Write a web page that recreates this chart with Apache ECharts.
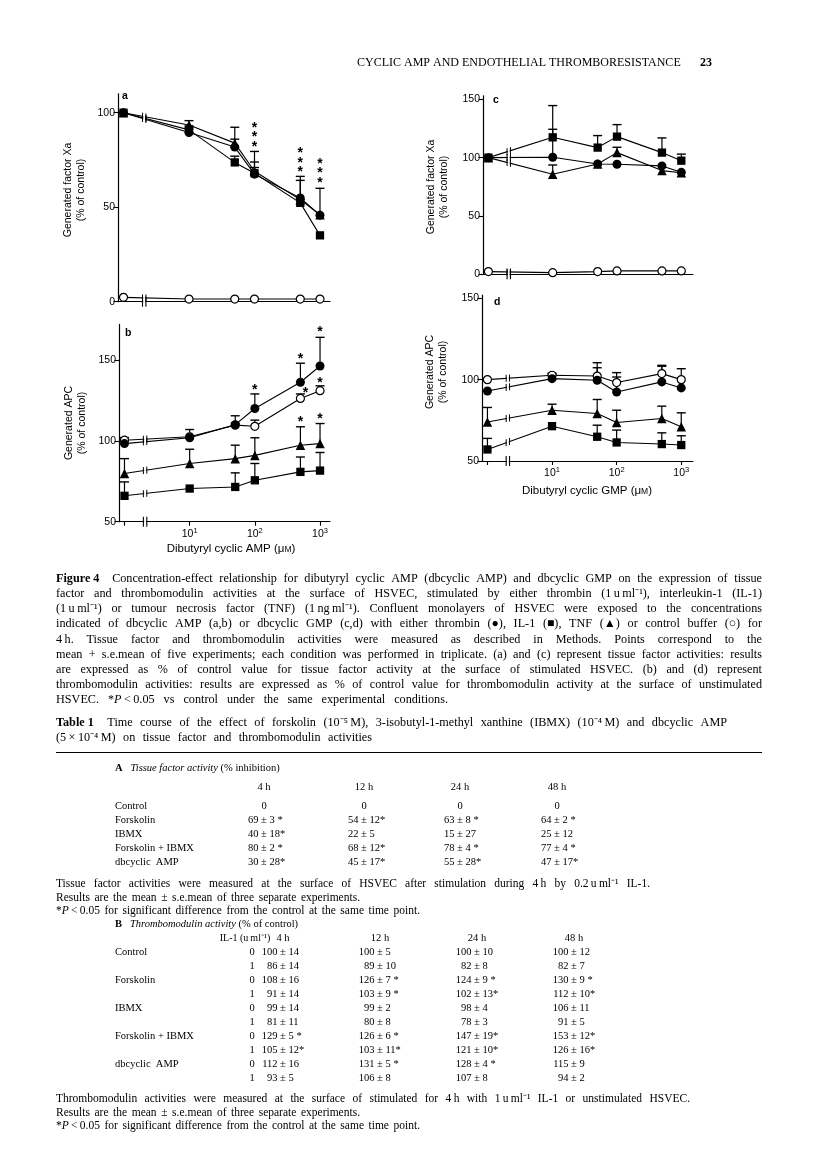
<!DOCTYPE html>
<html>
<head>
<meta charset="utf-8">
<title>Figure 4 / Table 1</title>
<script src="https://cdn.jsdelivr.net/npm/echarts@6.0.0/dist/echarts.min.js"></script>
<style>
  html, body { margin: 0; padding: 0; background: #fff; }
  #page { width: 816px; height: 1174px; }
</style>
</head>
<body>
<div id="page"></div>
<script>
var SANS = 'Liberation Sans';
var SERIF = 'Liberation Serif';

// concentration of dbcyclic AMP / GMP (uM); first entry is the no-drug point, left of the axis break
var conc = [1, 10, 50, 100, 500, 1000];
var axisBreak = [1.95, 2.2];

// a: generated factor Xa (% of control), dbcyclic AMP
var aThrombin = [100, 89.5, 81.8, 67.5, 54.9, 45.8];
var aThrombinTop = [100, 93, 92.3, 79.5, 66.3, 60];
var aIL1 = [100, 90.9, 73.7, 68, 52.3, 35.1];
var aIL1Top = [100, 92, 77, 71, 54, 35.1];
var aTNF = [100, 93.5, 83.9, 69, 54, 46];
var aTNFTop = [100, 95.8, 86, 73.9, 64.2, 46];
var aControl = [2.3, 1.4, 1.4, 1.4, 1.4, 1.4];
var aControlTop = [2.3, 1.4, 1.4, 1.4, 1.4, 1.4];
var aStarX = [100, 500, 1000];
var aStarY = [88.6, 75, 69.5];

// b: generated APC (% of control), dbcyclic AMP
var bThrombin = [98.3, 101.9, 110, 120, 136.2, 146.3];
var bThrombinTop = [101, 107, 115.5, 129, 148, 164];
var bIL1 = [66, 70.5, 71.5, 75.6, 80.8, 81.6];
var bIL1Top = [74.6, 70.5, 80.2, 86, 90, 92.8];
var bTNF = [79.8, 86, 89, 91, 97.3, 98.3];
var bTNFTop = [89, 94.8, 97.3, 101.9, 108.7, 110.7];
var bControl = [100.4, 102.5, 109.7, 109, 126.2, 131];
var bControlTop = [102, 103, 111, 112.8, 129, 134];
var bStarX = [100, 500, 1000, 600, 1000, 500, 1000];
var bStarY = [133, 152.5, 169, 131.5, 137.6, 113.4, 115];

// c: generated factor Xa (% of control), dbcyclic GMP
var cThrombin = [100, 100.3, 94.6, 94.3, 92.9, 87.4];
var cThrombinTop = [100, 124.3, 94.6, 94.3, 92.9, 87.4];
var cIL1 = [100, 117.4, 108.6, 118, 104.3, 97.4];
var cIL1Top = [100, 144.6, 118.9, 128.3, 116.9, 103];
var cTNF = [100, 85.7, 94.6, 104.3, 88.9, 87.1];
var cTNFTop = [100, 93.7, 94.6, 108.9, 88.9, 87.1];
var cControl = [2.3, 1.4, 2.3, 2.9, 2.9, 2.9];
var cControlTop = [2.3, 1.4, 2.3, 2.9, 2.9, 2.9];

// d: generated APC (% of control), dbcyclic GMP
var dThrombin = [93, 100.6, 99.6, 92.4, 98.6, 94.9];
var dThrombinTop = [93, 104, 107.3, 101.6, 108.8, 94.9];
var dIL1 = [57.1, 71.4, 64.9, 61.4, 60.4, 59.8];
var dIL1Top = [63.9, 71.4, 72, 69, 67.3, 65.5];
var dTNF = [74, 81.2, 79.2, 73.7, 76.1, 71];
var dTNFTop = [82.9, 84.9, 87.8, 81.2, 83.7, 79.6];
var dControl = [100, 102.7, 102.2, 98.2, 103.7, 100];
var dControlTop = [100, 103.5, 110.4, 104.3, 108.2, 106.7];

// table 1
var timeCols = ['4 h', '12 h', '24 h', '48 h'];
var tfRows = ['Control', 'Forskolin', 'IBMX', 'Forskolin + IBMX', 'dbcyclic  AMP'];
var tfVals = [
  ['0', '0', '0', '0'],
  ['69 ± 3 *', '54 ± 12*', '63 ± 8 *', '64 ± 2 *'],
  ['40 ± 18*', '22 ± 5', '15 ± 27', '25 ± 12'],
  ['80 ± 2 *', '68 ± 12*', '78 ± 4 *', '77 ± 4 *'],
  ['30 ± 28*', '45 ± 17*', '55 ± 28*', '47 ± 17*']
];
var tmRows = ['Control', '', 'Forskolin', '', 'IBMX', '', 'Forskolin + IBMX', '', 'dbcyclic  AMP', ''];
var tmIL1 = ['0', '1', '0', '1', '0', '1', '0', '1', '0', '1'];
var tmVals = [
  ['100 ± 14', '100 ± 5', '100 ± 10', '100 ± 12'],
  ['86 ± 14', '89 ± 10', '82 ± 8', '82 ± 7'],
  ['108 ± 16', '126 ± 7 *', '124 ± 9 *', '130 ± 9 *'],
  ['91 ± 14', '103 ± 9 *', '102 ± 13*', '112 ± 10*'],
  ['99 ± 14', '99 ± 2', '98 ± 4', '106 ± 11'],
  ['81 ± 11', '80 ± 8', '78 ± 3', '91 ± 5'],
  ['129 ± 5 *', '126 ± 6 *', '147 ± 19*', '153 ± 12*'],
  ['105 ± 12*', '103 ± 11*', '121 ± 10*', '126 ± 16*'],
  ['112 ± 16', '131 ± 5 *', '128 ± 4 *', '115 ± 9'],
  ['93 ± 5', '106 ± 8', '107 ± 8', '94 ± 2']
];

var caption = [
  '[b:Figure\u00a04]\u2002 Concentration-effect relationship for dibutyryl cyclic AMP (dbcyclic AMP) and dbcyclic GMP on the expression of tissue',
  'factor and thrombomodulin activities at the surface of HSVEC, stimulated by either thrombin (1\u2009u\u2009ml\u207b\u00b9), interleukin-1 (IL-1)',
  '(1\u2009u\u2009ml\u207b\u00b9) or tumour necrosis factor (TNF) (1\u2009ng\u2009ml\u207b\u00b9). Confluent monolayers of HSVEC were exposed to the concentrations',
  'indicated of dbcyclic AMP (a,b) or dbcyclic GMP (c,d) with either thrombin (\u25cf), IL-1 (\u25a0), TNF (\u25b2) or control buffer (\u25cb) for',
  '4\u2009h. Tissue factor and thrombomodulin activities were measured as described in Methods. Points correspond to the',
  'mean + s.e.mean of five experiments; each condition was performed in triplicate. (a) and (c) represent tissue factor activities: results',
  'are expressed as % of control value for tissue factor activity at the surface of stimulated HSVEC. (b) and (d) represent',
  'thrombomodulin activities: results are expressed as % of control value for thrombomodulin activity at the surface of unstimulated',
  'HSVEC. *[i:P]\u2009<\u20090.05 vs control under the same experimental conditions.'
];
var tfNotes = [
  'Tissue factor activities were measured at the surface of HSVEC after stimulation during 4\u2009h by 0.2\u2009u\u2009ml\u207b\u00b9 IL-1.',
  'Results are the mean \u00b1 s.e.mean of three separate experiments.',
  '*[i:P]\u2009<\u20090.05 for significant difference from the control at the same time point.'
];
var tmNotes = [
  'Thrombomodulin activities were measured at the surface of stimulated for 4\u2009h with 1\u2009u\u2009ml\u207b\u00b9 IL-1 or unstimulated HSVEC.',
  'Results are the mean \u00b1 s.e.mean of three separate experiments.',
  '*[i:P]\u2009<\u20090.05 for significant difference from the control at the same time point.'
];

var chart = echarts.init(document.getElementById('page'), null, { renderer: 'canvas' });

// pixel boxes of the four panels
var boxes = [
  { left: 118, top: 93.8, width: 212, height: 207.9, ymin: 0, ymax: 110, ticks: [0, 50, 100], xmax: 1422, xlab: false },
  { left: 119, top: 324.4, width: 211, height: 197.3, ymin: 50, ymax: 172, ticks: [50, 100, 150], xmax: 1422, xlab: true },
  { left: 483, top: 95.8, width: 210, height: 178.5, ymin: 0, ymax: 153, ticks: [0, 50, 100, 150], xmax: 1520, xlab: false },
  { left: 482, top: 295, width: 211, height: 166, ymin: 50, ymax: 152, ticks: [50, 100, 150], xmax: 1520, xlab: true }
];

var panelData = [
  [[aControl, aControlTop, 'ctrl'], [aIL1, aIL1Top, 'il1'], [aTNF, aTNFTop, 'tnf'], [aThrombin, aThrombinTop, 'thr']],
  [[bControl, bControlTop, 'ctrl'], [bIL1, bIL1Top, 'il1'], [bTNF, bTNFTop, 'tnf'], [bThrombin, bThrombinTop, 'thr']],
  [[cControl, cControlTop, 'ctrl'], [cIL1, cIL1Top, 'il1'], [cTNF, cTNFTop, 'tnf'], [cThrombin, cThrombinTop, 'thr']],
  [[dControl, dControlTop, 'ctrl'], [dIL1, dIL1Top, 'il1'], [dTNF, dTNFTop, 'tnf'], [dThrombin, dThrombinTop, 'thr']]
];

var marker = {
  thr: { symbol: 'circle', size: 9, fill: '#000', border: 0 },
  il1: { symbol: 'rect', size: 8.3, fill: '#000', border: 0 },
  tnf: { symbol: 'triangle', size: 9.5, fill: '#000', border: 0 },
  ctrl: { symbol: 'circle', size: 8, fill: '#fff', border: 1.2 }
};

function lineSeries(gi, ys, kind) {
  var m = marker[kind];
  return {
    type: 'line', xAxisIndex: gi, yAxisIndex: gi,
    data: conc.map(function (c, i) { return [c, ys[i]]; }),
    symbol: m.symbol, symbolSize: m.size, showAllSymbol: true,
    itemStyle: { color: m.fill, borderColor: '#000', borderWidth: m.border },
    lineStyle: { color: '#000', width: 1.1 },
    emphasis: { disabled: true }, silent: true, z: 3, animation: false
  };
}

function errSeries(gi, ys, tops) {
  return {
    type: 'custom', xAxisIndex: gi, yAxisIndex: gi,
    data: conc.map(function (c, i) { return [c, ys[i], tops[i]]; }),
    renderItem: function (params, api) {
      var p = api.coord([api.value(0), api.value(1)]);
      var t = api.coord([api.value(0), api.value(2)]);
      if (Math.abs(p[1] - t[1]) < 1) return { type: 'group', children: [] };
      return {
        type: 'group', children: [
          { type: 'line', shape: { x1: p[0], y1: p[1], x2: t[0], y2: t[1] }, style: { stroke: '#000', lineWidth: 1.2 } },
          { type: 'line', shape: { x1: t[0] - 4.5, y1: t[1], x2: t[0] + 4.5, y2: t[1] }, style: { stroke: '#000', lineWidth: 1.4 } }
        ]
      };
    },
    silent: true, z: 2, animation: false
  };
}

function starSeries(gi, xs, ys, stack) {
  return {
    type: 'custom', xAxisIndex: gi, yAxisIndex: gi,
    data: xs.map(function (x, i) { return [x, ys[i]]; }),
    renderItem: function (params, api) {
      var p = api.coord([api.value(0), api.value(1)]);
      var s = stack > 1 ? new Array(stack).fill('*').join('\n') : '*';
      return {
        type: 'text', x: p[0], y: p[1] + 3,
        style: { text: s, fontSize: 14, fontWeight: 'bold', fontFamily: SANS, fill: '#000',
          textAlign: 'center', textVerticalAlign: 'middle', lineHeight: 9.5 }
      };
    },
    silent: true, z: 4, animation: false
  };
}

var grids = [], xAxes = [], yAxes = [], series = [];
boxes.forEach(function (b, gi) {
  grids.push({ left: b.left, top: b.top, width: b.width, height: b.height, containLabel: false });
  xAxes.push({
    gridIndex: gi, type: 'log', logBase: 10, min: 0.824, max: b.xmax,
    axisLine: { show: true, lineStyle: { color: '#000', width: 1.2 } },
    axisTick: { show: b.xlab, customValues: [1, 10, 100, 1000], length: 4, lineStyle: { color: '#000', width: 1.1 } },
    axisLabel: {
      show: b.xlab, customValues: [10, 100, 1000], margin: 5, color: '#000',
      formatter: function (v) { return '{n|10}{s|' + Math.round(Math.log10(v)) + '}'; },
      rich: {
        n: { fontSize: 10.5, fontFamily: SANS, color: '#000' },
        s: { fontSize: 7.5, fontFamily: SANS, color: '#000', verticalAlign: 'top', padding: [0, 0, 6, 0] }
      }
    },
    splitLine: { show: false }, minorTick: { show: false }
  });
  yAxes.push({
    gridIndex: gi, type: 'value', min: b.ymin, max: b.ymax,
    axisLine: { show: true, lineStyle: { color: '#000', width: 1.2 } },
    axisTick: { show: true, customValues: b.ticks, length: 4.5, lineStyle: { color: '#000', width: 1.1 } },
    axisLabel: { customValues: b.ticks, margin: 3, fontSize: 10.5, fontFamily: SANS, color: '#000' },
    splitLine: { show: false }
  });
  panelData[gi].forEach(function (row) { series.push(errSeries(gi, row[0], row[1])); });
  panelData[gi].forEach(function (row) { series.push(lineSeries(gi, row[0], row[2])); });
});
series.push(starSeries(0, aStarX, aStarY, 3));
series.push(starSeries(1, bStarX, bStarY, 1));

chart.setOption({
  animation: false,
  grid: grids, xAxis: xAxes, yAxis: yAxes, series: series
});

// ---- text helpers ----
var measureCtx = document.createElement('canvas').getContext('2d');
function fontOf(size, st, fam) {
  return (st === 'i' ? 'italic ' : '') + (st === 'b' ? 'bold ' : '') + size + 'px ' + (fam || SERIF);
}
function textWidth(t, size, st) { measureCtx.font = fontOf(size, st); return measureCtx.measureText(t).width; }
function parseWord(w) {
  var runs = [], re = /\[(b|i):([^\]]*)\]/g, last = 0, m;
  while ((m = re.exec(w))) {
    if (m.index > last) runs.push([w.slice(last, m.index), 'n']);
    runs.push([m[2], m[1]]);
    last = re.lastIndex;
  }
  if (last < w.length) runs.push([w.slice(last), 'n']);
  return runs;
}
function txt(out, s, x, y, size, st, align, fam) {
  out.push({
    type: 'text', x: x, y: y, silent: true, z: 60,
    style: { text: s, font: fontOf(size, st, fam), fill: '#000', textAlign: align || 'left', textVerticalAlign: 'middle' }
  });
}
// writes a line word by word; when x1 is given the words are spread to fill x0..x1
function textLine(out, str, x0, y, size, x1) {
  var words = str.split(' ').filter(Boolean).map(parseWord);
  var widths = words.map(function (runs) {
    return runs.reduce(function (s, r) { return s + textWidth(r[0], size, r[1]); }, 0);
  });
  var gap = textWidth(' ', size, 'n');
  if (x1 && words.length > 1) {
    var total = widths.reduce(function (a, b) { return a + b; }, 0);
    gap = (x1 - x0 - total) / (words.length - 1);
  }
  var x = x0;
  words.forEach(function (runs) {
    runs.forEach(function (r) {
      txt(out, r[0], x, y, size, r[1]);
      x += textWidth(r[0], size, r[1]);
    });
    x += gap;
  });
}
function pmCell(out, s, cx, y, size) {
  var i = s.indexOf('±');
  var x = i < 0 ? cx - textWidth(s, size) / 2 : cx - textWidth(s.slice(0, i), size) - textWidth('±', size) / 2;
  txt(out, s, x, y, size);
}

var g = [];
// running head
txt(g, 'CYCLIC AMP AND ENDOTHELIAL THROMBORESISTANCE', 357, 63, 12);
txt(g, '23', 700, 63, 12, 'b');

// panel letters and axis titles
[['a', 122, 96], ['b', 125, 333], ['c', 493, 100], ['d', 494, 302]].forEach(function (l) {
  txt(g, l[0], l[1], l[2], 10.5, 'b', 'left', SANS);
});
[['Generated factor Xa', 75, 190], ['Generated APC', 76, 423], ['Generated factor Xa', 438, 187], ['Generated APC', 437, 372]].forEach(function (l) {
  g.push({
    type: 'text', x: l[1], y: l[2], rotation: Math.PI / 2, silent: true, z: 60,
    style: { text: l[0] + '\n(% of control)', font: '10.5px ' + SANS, fill: '#000', textAlign: 'center', textVerticalAlign: 'middle', lineHeight: 13 }
  });
});
[['Dibutyryl cyclic AMP (\u03bc', 231, 549], ['Dibutyryl cyclic GMP (\u03bc', 587, 491]].forEach(function (l) {
  g.push({
    type: 'text', x: l[1], y: l[2], silent: true, z: 60,
    style: {
      text: '{t|' + l[0] + '}{m|M}{t|)}', textAlign: 'center', textVerticalAlign: 'middle',
      rich: {
        t: { fontSize: 11.5, fontFamily: SANS, color: '#000' },
        m: { fontSize: 8.5, fontFamily: SANS, color: '#000', verticalAlign: 'bottom', padding: [0, 0, 1, 0] }
      }
    }
  });
});

// caption (justified; the last line is set loosely like the original)
caption.forEach(function (line, k) {
  textLine(g, line, 56, 579 + k * 15.1, 12.2, k < caption.length - 1 ? 762 : 448);
});

// table 1 title
textLine(g, '[b:Table\u00a01]\u2002 Time course of the effect of forskolin (10\u207b\u2075\u2009M), 3-isobutyl-1-methyl xanthine (IBMX) (10\u207b\u2074\u2009M) and dbcyclic AMP', 56, 723, 12.2, 727);
textLine(g, '(5\u2009\u00d7\u200910\u207b\u2074\u2009M) on tissue factor and thrombomodulin activities', 56, 738, 12.2, 372);
g.push({ type: 'line', shape: { x1: 56, y1: 752.5, x2: 762, y2: 752.5 }, style: { stroke: '#000', lineWidth: 1 }, silent: true, z: 60 });

// part A
var tfCx = [264, 364, 460, 557];
textLine(g, '[b:A]\u2002 [i:Tissue] [i:factor] [i:activity] (% inhibition)', 115, 768, 10.5);
timeCols.forEach(function (c, j) { txt(g, c, tfCx[j], 787, 10.5, 'n', 'center'); });
tfRows.forEach(function (r, i) {
  var y = 806 + i * 14;
  txt(g, r, 115, y, 10.5);
  tfVals[i].forEach(function (v, j) { pmCell(g, v, tfCx[j], y, 10.5); });
});
var tfNoteEnds = [650, 360, 420];
tfNotes.forEach(function (n, k) { textLine(g, n, 56, 884 + k * 13.5, 11.5, tfNoteEnds[k]); });

// part B
var tmCx = [283, 380, 477, 574];
textLine(g, '[b:B]\u2002 [i:Thrombomodulin] [i:activity] (% of control)', 115, 924, 10.5);
txt(g, 'IL-1 (u\u2009ml\u207b\u00b9)', 245, 938, 10, 'n', 'center');
timeCols.forEach(function (c, j) { txt(g, c, tmCx[j], 938, 10.5, 'n', 'center'); });
tmRows.forEach(function (r, i) {
  var y = 952 + i * 14;
  if (r) txt(g, r, 115, y, 10.5);
  txt(g, tmIL1[i], 252, y, 10.5, 'n', 'center');
  tmVals[i].forEach(function (v, j) { pmCell(g, v, tmCx[j], y, 10.5); });
});
var tmNoteEnds = [690, 360, 420];
tmNotes.forEach(function (n, k) { textLine(g, n, 56, 1099 + k * 13.5, 11.5, tmNoteEnds[k]); });

// axis breaks: white gap and double bars on the axis and on every line that crosses it
boxes.forEach(function (b, gi) {
  var bx0 = chart.convertToPixel({ gridIndex: gi }, [axisBreak[0], b.ymin])[0];
  var bx1 = chart.convertToPixel({ gridIndex: gi }, [axisBreak[1], b.ymin])[0];
  var yb = b.top + b.height;
  g.push({ type: 'rect', shape: { x: bx0 + 0.8, y: b.top - 2, width: bx1 - bx0 - 1.6, height: b.height + 7 }, style: { fill: '#fff' }, silent: true, z: 50 });
  [bx0, bx1].forEach(function (bx) {
    g.push({ type: 'line', shape: { x1: bx, y1: yb - 5, x2: bx, y2: yb + 5 }, style: { stroke: '#000', lineWidth: 1.1 }, silent: true, z: 51 });
  });
  panelData[gi].forEach(function (row) {
    var p0 = chart.convertToPixel({ gridIndex: gi }, [conc[0], row[0][0]]);
    var p1 = chart.convertToPixel({ gridIndex: gi }, [conc[1], row[0][1]]);
    [bx0, bx1].forEach(function (bx) {
      var yy = p0[1] + (p1[1] - p0[1]) * (bx - p0[0]) / (p1[0] - p0[0]);
      g.push({ type: 'line', shape: { x1: bx, y1: yy - 3.5, x2: bx, y2: yy + 3.5 }, style: { stroke: '#000', lineWidth: 1 }, silent: true, z: 51 });
    });
  });
});

chart.setOption({ graphic: { elements: g } });
</script>
</body>
</html>
